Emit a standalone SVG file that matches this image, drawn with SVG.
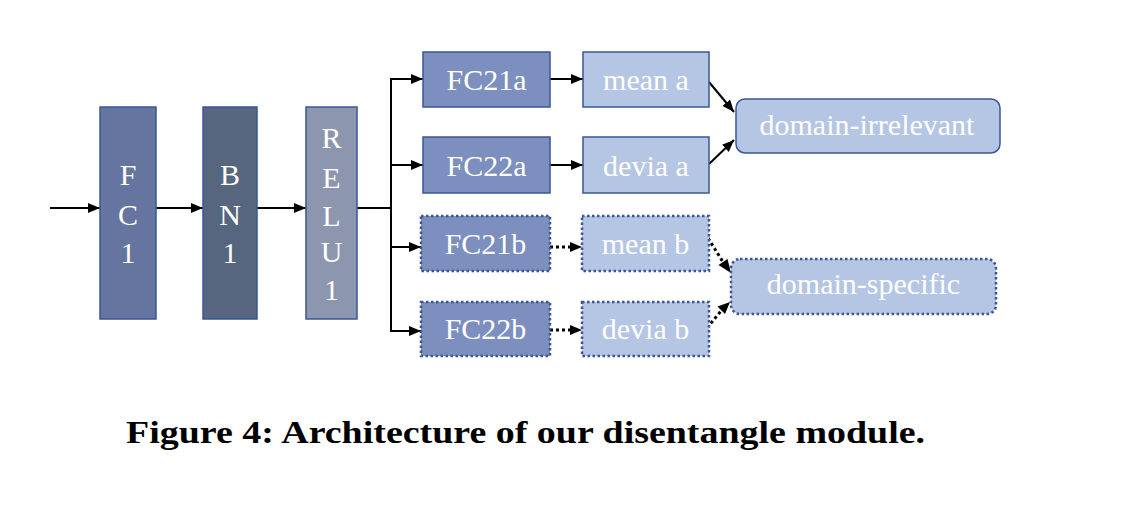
<svg xmlns="http://www.w3.org/2000/svg" width="1144" height="514" viewBox="0 0 1144 514">
<style>
.t{font-family:'Liberation Serif','Times New Roman',Times,serif;font-size:30px;fill:#ffffff;text-anchor:middle}
.c{font-family:'Liberation Serif','Times New Roman',Times,serif;font-size:32px;font-weight:bold;fill:#000}
.ln{stroke:#000;stroke-width:2;fill:none}
.dt{stroke:#000;stroke-width:3;stroke-dasharray:3 3;fill:none}
.bd{stroke:#3B5597;stroke-width:1.5}
.dot{stroke:#3B5597;stroke-width:2.5;stroke-dasharray:2.5 2.5}
</style>
<defs>
<marker id="ah" viewBox="0 0 12 10" refX="12" refY="5" markerWidth="12" markerHeight="10" markerUnits="userSpaceOnUse" orient="auto">
<path d="M0,0 L12,5 L0,10 z" fill="#000"/>
</marker>
</defs>
<rect width="1144" height="514" fill="#fff"/>
<g id="connectors">
<line class="ln" x1="50" y1="208" x2="100" y2="208" marker-end="url(#ah)"/>
<line class="ln" x1="156" y1="208" x2="203" y2="208" marker-end="url(#ah)"/>
<line class="ln" x1="257" y1="208" x2="306" y2="208" marker-end="url(#ah)"/>
<line class="ln" x1="357" y1="208" x2="391" y2="208"/>
<line class="ln" x1="391" y1="79" x2="391" y2="332"/>
<line class="ln" x1="390" y1="79" x2="423" y2="79" marker-end="url(#ah)"/>
<line class="ln" x1="390" y1="165" x2="423" y2="165" marker-end="url(#ah)"/>
<line class="ln" x1="390" y1="247" x2="421" y2="247" marker-end="url(#ah)"/>
<line class="ln" x1="390" y1="331" x2="421" y2="331" marker-end="url(#ah)"/>
<line class="ln" x1="550" y1="79" x2="583" y2="79" marker-end="url(#ah)"/>
<line class="ln" x1="550" y1="165" x2="583" y2="165" marker-end="url(#ah)"/>
<line class="dt" x1="550" y1="247" x2="570" y2="247"/>
<path d="M570,242 L582,247 L570,252 z"/>
<line class="dt" x1="550" y1="330" x2="570" y2="330"/>
<path d="M570,325 L582,330 L570,335 z"/>
<line class="ln" x1="709" y1="82" x2="734" y2="112" marker-end="url(#ah)"/>
<line class="ln" x1="709" y1="164" x2="734" y2="140" marker-end="url(#ah)"/>
<line class="dt" x1="708" y1="238" x2="723" y2="262"/>
<path d="M718.5,265 L731,273 L727.5,259 z"/>
<line class="dt" x1="707" y1="328" x2="721" y2="311"/>
<path d="M717.5,306.5 L730,302 L725,314 z"/>
</g>
<g id="FC1">
<rect class="bd" x="100" y="107" width="56" height="212" fill="#6675A0"/>
<text class="t" x="128" y="185">F</text>
<text class="t" x="128" y="225">C</text>
<text class="t" x="128" y="263">1</text>
</g>
<g id="BN1">
<rect class="bd" x="203" y="107" width="54" height="212" fill="#56667E"/>
<text class="t" x="230" y="185">B</text>
<text class="t" x="230" y="225">N</text>
<text class="t" x="230" y="263">1</text>
</g>
<g id="RELU1">
<rect class="bd" x="306" y="107" width="51" height="212" fill="#8D96AF"/>
<text class="t" x="331.5" y="148">R</text>
<text class="t" x="331.5" y="188">E</text>
<text class="t" x="331.5" y="226">L</text>
<text class="t" x="331.5" y="262">U</text>
<text class="t" x="331.5" y="300">1</text>
</g>
<g id="FC21a">
<rect class="bd" x="423" y="52" width="127" height="55" fill="#7C8FBE"/>
<text class="t" x="486.5" y="90">FC21a</text>
</g>
<g id="FC22a">
<rect class="bd" x="423" y="137" width="127" height="56" fill="#7C8FBE"/>
<text class="t" x="486.5" y="176">FC22a</text>
</g>
<g id="FC21b">
<rect class="dot" x="421" y="216" width="129" height="55" fill="#7C8FBE"/>
<text class="t" x="485.5" y="254">FC21b</text>
</g>
<g id="FC22b">
<rect class="dot" x="421" y="302" width="129" height="54" fill="#7C8FBE"/>
<text class="t" x="485.5" y="339">FC22b</text>
</g>
<g id="mean_a">
<rect class="bd" x="583" y="52" width="126" height="55" fill="#B5C5E4"/>
<text class="t" x="646" y="90">mean a</text>
</g>
<g id="devia_a">
<rect class="bd" x="583" y="137" width="126" height="56" fill="#B5C5E4"/>
<text class="t" x="646" y="176">devia a</text>
</g>
<g id="mean_b">
<rect class="dot" x="582" y="216" width="127" height="55" fill="#B5C5E4"/>
<text class="t" x="645.5" y="254">mean b</text>
</g>
<g id="devia_b">
<rect class="dot" x="582" y="302" width="127" height="54" fill="#B5C5E4"/>
<text class="t" x="645.5" y="339">devia b</text>
</g>
<g id="domain_irrelevant">
<rect class="bd" x="736" y="99" width="264" height="54" rx="9" fill="#B5C5E4" stroke-width="2"/>
<text class="t" x="867" y="135">domain-irrelevant</text>
</g>
<g id="domain_specific">
<rect class="dot" x="731" y="259" width="265" height="55" rx="9" fill="#B5C5E4"/>
<text class="t" x="863.5" y="294">domain-specific</text>
</g>
<text class="c" x="126" y="443" textLength="799" lengthAdjust="spacingAndGlyphs">Figure 4: Architecture of our disentangle module.</text>
</svg>
